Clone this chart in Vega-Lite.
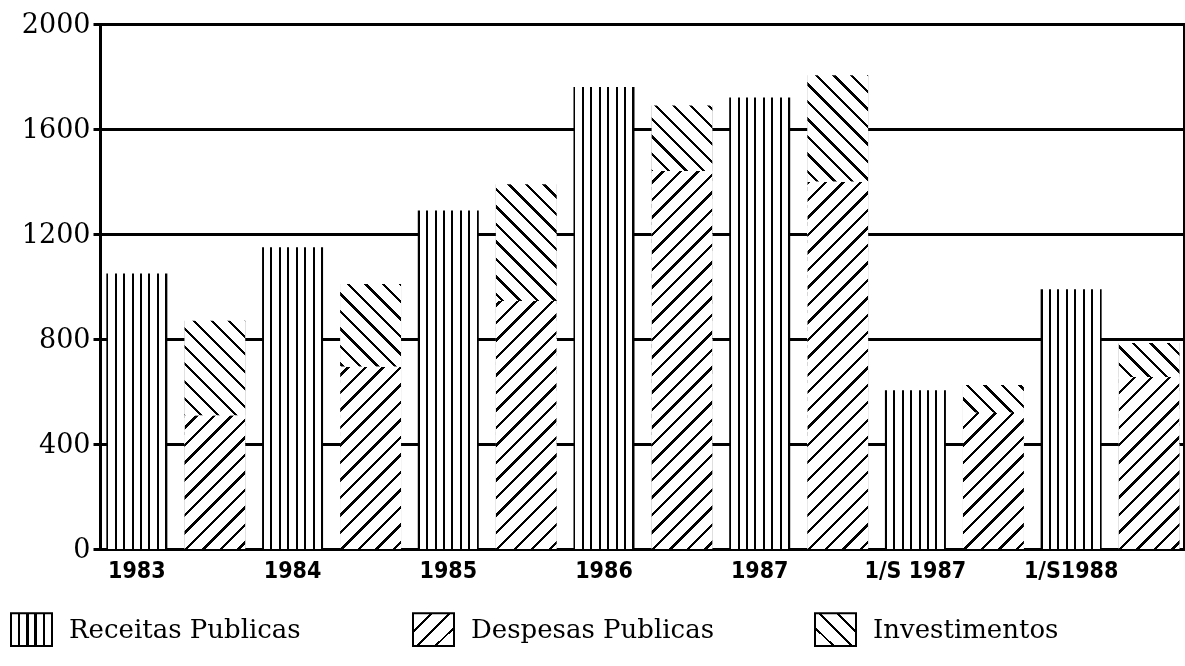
{
  "$schema": "https://vega.github.io/schema/vega-lite/v6.json",
  "width": 1084,
  "height": 525,
  "autosize": {"type": "none"},
  "padding": {"left": 100, "top": 24, "right": 1, "bottom": 117},
  "background": "white",
  "title": {"text": "(em milhões de pesos)", "frame": "group", "anchor": "middle", "offset": 4, "dy": 8, "baseline": "alphabetic", "font": "DejaVu Serif", "fontSize": 24.5, "fontWeight": "normal", "color": "black", "dx": -27},
  "data": {"values": [
    {"ano": "1983", "serie": "Receitas Publicas", "coluna": "receitas", "valor": 1050},
    {"ano": "1983", "serie": "Despesas Publicas", "coluna": "despesas", "valor": 510},
    {"ano": "1983", "serie": "Investimentos", "coluna": "despesas", "valor": 360},
    {"ano": "1984", "serie": "Receitas Publicas", "coluna": "receitas", "valor": 1150},
    {"ano": "1984", "serie": "Despesas Publicas", "coluna": "despesas", "valor": 695},
    {"ano": "1984", "serie": "Investimentos", "coluna": "despesas", "valor": 315},
    {"ano": "1985", "serie": "Receitas Publicas", "coluna": "receitas", "valor": 1290},
    {"ano": "1985", "serie": "Despesas Publicas", "coluna": "despesas", "valor": 945},
    {"ano": "1985", "serie": "Investimentos", "coluna": "despesas", "valor": 445},
    {"ano": "1986", "serie": "Receitas Publicas", "coluna": "receitas", "valor": 1760},
    {"ano": "1986", "serie": "Despesas Publicas", "coluna": "despesas", "valor": 1440},
    {"ano": "1986", "serie": "Investimentos", "coluna": "despesas", "valor": 250},
    {"ano": "1987", "serie": "Receitas Publicas", "coluna": "receitas", "valor": 1720},
    {"ano": "1987", "serie": "Despesas Publicas", "coluna": "despesas", "valor": 1400},
    {"ano": "1987", "serie": "Investimentos", "coluna": "despesas", "valor": 405},
    {"ano": "1/S 1987", "serie": "Receitas Publicas", "coluna": "receitas", "valor": 605},
    {"ano": "1/S 1987", "serie": "Despesas Publicas", "coluna": "despesas", "valor": 520},
    {"ano": "1/S 1987", "serie": "Investimentos", "coluna": "despesas", "valor": 105},
    {"ano": "1/S1988", "serie": "Receitas Publicas", "coluna": "receitas", "valor": 990},
    {"ano": "1/S1988", "serie": "Despesas Publicas", "coluna": "despesas", "valor": 655},
    {"ano": "1/S1988", "serie": "Investimentos", "coluna": "despesas", "valor": 130}
  ]},
  "config": {
    "view": {"fill": "white", "stroke": "black", "strokeWidth": 2},
    "axisY": {"grid": true, "gridColor": "black", "gridWidth": 3, "gridOpacity": 1, "domainColor": "black", "domainWidth": 3, "tickColor": "black", "tickWidth": 3, "tickSize": 7, "labelFont": "DejaVu Serif", "labelFontSize": 27, "labelColor": "black", "labelPadding": 3, "translate": 0.5, "format": "d"},
    "axisX": {"grid": false, "ticks": false, "domainColor": "black", "domainWidth": 3, "labelAngle": 0, "labelOffset": -39, "labelPadding": 10, "labelFont": "Liberation Sans Narrow, DejaVu Sans Condensed, sans-serif", "labelFontSize": 23, "labelFontWeight": "bold", "labelColor": "black", "translate": 0.5}
  },
  "encoding": {
    "x": {"field": "ano", "type": "nominal", "title": null, "scale": {"domain": ["1983", "1984", "1985", "1986", "1987", "1/S 1987", "1/S1988"], "range": [-2, 1088], "paddingInner": 0, "paddingOuter": 0}},
    "xOffset": {"field": "coluna", "type": "nominal", "scale": {"domain": ["receitas", "despesas"], "paddingInner": 0.218, "paddingOuter": 0.107}}
  },
  "layer": [
    {
      "transform": [{"filter": "datum.serie === 'Despesas Publicas'"}],
      "mark": {"type": "bar", "fill": "#808080"},
      "encoding": {
        "y": {"field": "valor", "type": "quantitative", "title": null, "scale": {"domain": [0, 2000], "nice": false}, "axis": {"values": [0, 400, 800, 1200, 1600, 2000], "format": "d"}}
      }
    },
    {
      "transform": [{"filter": "datum.serie === 'Despesas Publicas'"}],
      "mark": {"type": "bar", "blend": "overlay", "fill": {"gradient": "linear", "x1": 0, "y1": 0, "x2": 0.17475, "y2": 1.12786, "stops": [
        {"offset": 0, "color": "#fff"},
        {"offset": 0.0192, "color": "#fff"}, {"offset": 0.0192, "color": "#000"}, {"offset": 0.0267, "color": "#000"}, {"offset": 0.0267, "color": "#fff"},
        {"offset": 0.0577, "color": "#fff"}, {"offset": 0.0577, "color": "#000"}, {"offset": 0.0652, "color": "#000"}, {"offset": 0.0652, "color": "#fff"},
        {"offset": 0.0962, "color": "#fff"}, {"offset": 0.0962, "color": "#000"}, {"offset": 0.1037, "color": "#000"}, {"offset": 0.1037, "color": "#fff"},
        {"offset": 0.1346, "color": "#fff"}, {"offset": 0.1346, "color": "#000"}, {"offset": 0.1421, "color": "#000"}, {"offset": 0.1421, "color": "#fff"},
        {"offset": 0.1731, "color": "#fff"}, {"offset": 0.1731, "color": "#000"}, {"offset": 0.1806, "color": "#000"}, {"offset": 0.1806, "color": "#fff"},
        {"offset": 0.2115, "color": "#fff"}, {"offset": 0.2115, "color": "#000"}, {"offset": 0.219, "color": "#000"}, {"offset": 0.219, "color": "#fff"},
        {"offset": 0.25, "color": "#fff"}, {"offset": 0.25, "color": "#000"}, {"offset": 0.2575, "color": "#000"}, {"offset": 0.2575, "color": "#fff"},
        {"offset": 0.2885, "color": "#fff"}, {"offset": 0.2885, "color": "#000"}, {"offset": 0.296, "color": "#000"}, {"offset": 0.296, "color": "#fff"},
        {"offset": 0.3269, "color": "#fff"}, {"offset": 0.3269, "color": "#000"}, {"offset": 0.3344, "color": "#000"}, {"offset": 0.3344, "color": "#fff"},
        {"offset": 0.3654, "color": "#fff"}, {"offset": 0.3654, "color": "#000"}, {"offset": 0.3729, "color": "#000"}, {"offset": 0.3729, "color": "#fff"},
        {"offset": 0.4038, "color": "#fff"}, {"offset": 0.4038, "color": "#000"}, {"offset": 0.4113, "color": "#000"}, {"offset": 0.4113, "color": "#fff"},
        {"offset": 0.4423, "color": "#fff"}, {"offset": 0.4423, "color": "#000"}, {"offset": 0.4498, "color": "#000"}, {"offset": 0.4498, "color": "#fff"},
        {"offset": 0.4808, "color": "#fff"}, {"offset": 0.4808, "color": "#000"}, {"offset": 0.4883, "color": "#000"}, {"offset": 0.4883, "color": "#fff"},
        {"offset": 0.5192, "color": "#fff"}, {"offset": 0.5192, "color": "#000"}, {"offset": 0.5267, "color": "#000"}, {"offset": 0.5267, "color": "#fff"},
        {"offset": 0.5577, "color": "#fff"}, {"offset": 0.5577, "color": "#000"}, {"offset": 0.5652, "color": "#000"}, {"offset": 0.5652, "color": "#fff"},
        {"offset": 0.5962, "color": "#fff"}, {"offset": 0.5962, "color": "#000"}, {"offset": 0.6037, "color": "#000"}, {"offset": 0.6037, "color": "#fff"},
        {"offset": 0.6346, "color": "#fff"}, {"offset": 0.6346, "color": "#000"}, {"offset": 0.6421, "color": "#000"}, {"offset": 0.6421, "color": "#fff"},
        {"offset": 0.6731, "color": "#fff"}, {"offset": 0.6731, "color": "#000"}, {"offset": 0.6806, "color": "#000"}, {"offset": 0.6806, "color": "#fff"},
        {"offset": 0.7115, "color": "#fff"}, {"offset": 0.7115, "color": "#000"}, {"offset": 0.719, "color": "#000"}, {"offset": 0.719, "color": "#fff"},
        {"offset": 0.75, "color": "#fff"}, {"offset": 0.75, "color": "#000"}, {"offset": 0.7575, "color": "#000"}, {"offset": 0.7575, "color": "#fff"},
        {"offset": 0.7885, "color": "#fff"}, {"offset": 0.7885, "color": "#000"}, {"offset": 0.796, "color": "#000"}, {"offset": 0.796, "color": "#fff"},
        {"offset": 0.8269, "color": "#fff"}, {"offset": 0.8269, "color": "#000"}, {"offset": 0.8344, "color": "#000"}, {"offset": 0.8344, "color": "#fff"},
        {"offset": 0.8654, "color": "#fff"}, {"offset": 0.8654, "color": "#000"}, {"offset": 0.8729, "color": "#000"}, {"offset": 0.8729, "color": "#fff"},
        {"offset": 0.9038, "color": "#fff"}, {"offset": 0.9038, "color": "#000"}, {"offset": 0.9113, "color": "#000"}, {"offset": 0.9113, "color": "#fff"},
        {"offset": 0.9423, "color": "#fff"}, {"offset": 0.9423, "color": "#000"}, {"offset": 0.9498, "color": "#000"}, {"offset": 0.9498, "color": "#fff"},
        {"offset": 0.9808, "color": "#fff"}, {"offset": 0.9808, "color": "#000"}, {"offset": 0.9883, "color": "#000"}, {"offset": 0.9883, "color": "#fff"},
        {"offset": 1, "color": "#fff"}
      ]}},
      "encoding": {
        "y": {"datum": 1500, "title": null},
        "y2": {"datum": 0}
      }
    },
    {
      "transform": [{"filter": "datum.coluna === 'despesas'"}],
      "mark": {"type": "bar", "fill": "#808080"},
      "encoding": {
        "y": {"field": "valor", "type": "quantitative", "stack": "zero", "title": null},
        "detail": {"field": "serie", "type": "nominal"},
        "order": {"field": "serie", "sort": "ascending"},
        "fillOpacity": {"condition": {"test": "datum.serie === 'Despesas Publicas'", "value": 0}, "value": 1}
      }
    },
    {
      "transform": [{"filter": "datum.serie === 'Investimentos'"}],
      "mark": {"type": "bar", "blend": "overlay", "fill": {"gradient": "linear", "x1": 0, "y1": 1, "x2": 0.17475, "y2": -0.12786, "stops": [
        {"offset": 0, "color": "#fff"},
        {"offset": 0.0192, "color": "#fff"}, {"offset": 0.0192, "color": "#000"}, {"offset": 0.0267, "color": "#000"}, {"offset": 0.0267, "color": "#fff"},
        {"offset": 0.0577, "color": "#fff"}, {"offset": 0.0577, "color": "#000"}, {"offset": 0.0652, "color": "#000"}, {"offset": 0.0652, "color": "#fff"},
        {"offset": 0.0962, "color": "#fff"}, {"offset": 0.0962, "color": "#000"}, {"offset": 0.1037, "color": "#000"}, {"offset": 0.1037, "color": "#fff"},
        {"offset": 0.1346, "color": "#fff"}, {"offset": 0.1346, "color": "#000"}, {"offset": 0.1421, "color": "#000"}, {"offset": 0.1421, "color": "#fff"},
        {"offset": 0.1731, "color": "#fff"}, {"offset": 0.1731, "color": "#000"}, {"offset": 0.1806, "color": "#000"}, {"offset": 0.1806, "color": "#fff"},
        {"offset": 0.2115, "color": "#fff"}, {"offset": 0.2115, "color": "#000"}, {"offset": 0.219, "color": "#000"}, {"offset": 0.219, "color": "#fff"},
        {"offset": 0.25, "color": "#fff"}, {"offset": 0.25, "color": "#000"}, {"offset": 0.2575, "color": "#000"}, {"offset": 0.2575, "color": "#fff"},
        {"offset": 0.2885, "color": "#fff"}, {"offset": 0.2885, "color": "#000"}, {"offset": 0.296, "color": "#000"}, {"offset": 0.296, "color": "#fff"},
        {"offset": 0.3269, "color": "#fff"}, {"offset": 0.3269, "color": "#000"}, {"offset": 0.3344, "color": "#000"}, {"offset": 0.3344, "color": "#fff"},
        {"offset": 0.3654, "color": "#fff"}, {"offset": 0.3654, "color": "#000"}, {"offset": 0.3729, "color": "#000"}, {"offset": 0.3729, "color": "#fff"},
        {"offset": 0.4038, "color": "#fff"}, {"offset": 0.4038, "color": "#000"}, {"offset": 0.4113, "color": "#000"}, {"offset": 0.4113, "color": "#fff"},
        {"offset": 0.4423, "color": "#fff"}, {"offset": 0.4423, "color": "#000"}, {"offset": 0.4498, "color": "#000"}, {"offset": 0.4498, "color": "#fff"},
        {"offset": 0.4808, "color": "#fff"}, {"offset": 0.4808, "color": "#000"}, {"offset": 0.4883, "color": "#000"}, {"offset": 0.4883, "color": "#fff"},
        {"offset": 0.5192, "color": "#fff"}, {"offset": 0.5192, "color": "#000"}, {"offset": 0.5267, "color": "#000"}, {"offset": 0.5267, "color": "#fff"},
        {"offset": 0.5577, "color": "#fff"}, {"offset": 0.5577, "color": "#000"}, {"offset": 0.5652, "color": "#000"}, {"offset": 0.5652, "color": "#fff"},
        {"offset": 0.5962, "color": "#fff"}, {"offset": 0.5962, "color": "#000"}, {"offset": 0.6037, "color": "#000"}, {"offset": 0.6037, "color": "#fff"},
        {"offset": 0.6346, "color": "#fff"}, {"offset": 0.6346, "color": "#000"}, {"offset": 0.6421, "color": "#000"}, {"offset": 0.6421, "color": "#fff"},
        {"offset": 0.6731, "color": "#fff"}, {"offset": 0.6731, "color": "#000"}, {"offset": 0.6806, "color": "#000"}, {"offset": 0.6806, "color": "#fff"},
        {"offset": 0.7115, "color": "#fff"}, {"offset": 0.7115, "color": "#000"}, {"offset": 0.719, "color": "#000"}, {"offset": 0.719, "color": "#fff"},
        {"offset": 0.75, "color": "#fff"}, {"offset": 0.75, "color": "#000"}, {"offset": 0.7575, "color": "#000"}, {"offset": 0.7575, "color": "#fff"},
        {"offset": 0.7885, "color": "#fff"}, {"offset": 0.7885, "color": "#000"}, {"offset": 0.796, "color": "#000"}, {"offset": 0.796, "color": "#fff"},
        {"offset": 0.8269, "color": "#fff"}, {"offset": 0.8269, "color": "#000"}, {"offset": 0.8344, "color": "#000"}, {"offset": 0.8344, "color": "#fff"},
        {"offset": 0.8654, "color": "#fff"}, {"offset": 0.8654, "color": "#000"}, {"offset": 0.8729, "color": "#000"}, {"offset": 0.8729, "color": "#fff"},
        {"offset": 0.9038, "color": "#fff"}, {"offset": 0.9038, "color": "#000"}, {"offset": 0.9113, "color": "#000"}, {"offset": 0.9113, "color": "#fff"},
        {"offset": 0.9423, "color": "#fff"}, {"offset": 0.9423, "color": "#000"}, {"offset": 0.9498, "color": "#000"}, {"offset": 0.9498, "color": "#fff"},
        {"offset": 0.9808, "color": "#fff"}, {"offset": 0.9808, "color": "#000"}, {"offset": 0.9883, "color": "#000"}, {"offset": 0.9883, "color": "#fff"},
        {"offset": 1, "color": "#fff"}
      ]}},
      "encoding": {
        "y": {"datum": 1900, "title": null},
        "y2": {"datum": 400}
      }
    },
    {
      "transform": [{"filter": "datum.serie === 'Receitas Publicas'"}],
      "mark": {"type": "bar", "fill": {"gradient": "linear", "x1": 0, "y1": 0, "x2": 1, "y2": 0, "stops": [
        {"offset": 0, "color": "#000"}, {"offset": 0.0328, "color": "#000"}, {"offset": 0.0328, "color": "#fff"},
        {"offset": 0.1382, "color": "#fff"}, {"offset": 0.1382, "color": "#000"}, {"offset": 0.171, "color": "#000"}, {"offset": 0.171, "color": "#fff"},
        {"offset": 0.2764, "color": "#fff"}, {"offset": 0.2764, "color": "#000"}, {"offset": 0.3092, "color": "#000"}, {"offset": 0.3092, "color": "#fff"},
        {"offset": 0.4146, "color": "#fff"}, {"offset": 0.4146, "color": "#000"}, {"offset": 0.4474, "color": "#000"}, {"offset": 0.4474, "color": "#fff"},
        {"offset": 0.5527, "color": "#fff"}, {"offset": 0.5527, "color": "#000"}, {"offset": 0.5855, "color": "#000"}, {"offset": 0.5855, "color": "#fff"},
        {"offset": 0.6909, "color": "#fff"}, {"offset": 0.6909, "color": "#000"}, {"offset": 0.7237, "color": "#000"}, {"offset": 0.7237, "color": "#fff"},
        {"offset": 0.829, "color": "#fff"}, {"offset": 0.829, "color": "#000"}, {"offset": 0.8618, "color": "#000"}, {"offset": 0.8618, "color": "#fff"},
        {"offset": 0.9672, "color": "#fff"}, {"offset": 0.9672, "color": "#000"}, {"offset": 1, "color": "#000"}
      ]}},
      "encoding": {
        "y": {"field": "valor", "type": "quantitative", "title": null}
      }
    },
    {
      "mark": {"type": "point", "filled": true, "opacity": 0,
        "fill": {"expr": "(datum.serie === 'Receitas Publicas' || datum.value === 'Receitas Publicas') ? {gradient: 'linear', x1: 0, y1: 0, x2: 1, y2: 0, stops: [{offset: 0, color: '#fff'}, {offset: 0.17, color: '#fff'}, {offset: 0.17, color: '#000'}, {offset: 0.23, color: '#000'}, {offset: 0.23, color: '#fff'}, {offset: 0.37, color: '#fff'}, {offset: 0.37, color: '#000'}, {offset: 0.43, color: '#000'}, {offset: 0.43, color: '#fff'}, {offset: 0.57, color: '#fff'}, {offset: 0.57, color: '#000'}, {offset: 0.63, color: '#000'}, {offset: 0.63, color: '#fff'}, {offset: 0.77, color: '#fff'}, {offset: 0.77, color: '#000'}, {offset: 0.83, color: '#000'}, {offset: 0.83, color: '#fff'}, {offset: 1, color: '#fff'}]} : (datum.serie === 'Despesas Publicas' || datum.value === 'Despesas Publicas') ? {gradient: 'linear', x1: 0, y1: 0, x2: 1.0953, y2: 0.8816, stops: [{offset: 0, color: '#fff'}, {offset: 0.23, color: '#fff'}, {offset: 0.23, color: '#000'}, {offset: 0.27, color: '#000'}, {offset: 0.27, color: '#fff'}, {offset: 0.48, color: '#fff'}, {offset: 0.48, color: '#000'}, {offset: 0.52, color: '#000'}, {offset: 0.52, color: '#fff'}, {offset: 0.73, color: '#fff'}, {offset: 0.73, color: '#000'}, {offset: 0.77, color: '#000'}, {offset: 0.77, color: '#fff'}, {offset: 1, color: '#fff'}]} : {gradient: 'linear', x1: 0, y1: 1, x2: 1.0953, y2: 0.1184, stops: [{offset: 0, color: '#fff'}, {offset: 0.23, color: '#fff'}, {offset: 0.23, color: '#000'}, {offset: 0.27, color: '#000'}, {offset: 0.27, color: '#fff'}, {offset: 0.48, color: '#fff'}, {offset: 0.48, color: '#000'}, {offset: 0.52, color: '#000'}, {offset: 0.52, color: '#fff'}, {offset: 0.73, color: '#fff'}, {offset: 0.73, color: '#000'}, {offset: 0.77, color: '#000'}, {offset: 0.77, color: '#fff'}, {offset: 1, color: '#fff'}]}"}
      },
      "encoding": {
        "y": {"datum": 0, "title": null},
        "stroke": {"field": "serie", "type": "nominal",
          "scale": {"domain": ["Receitas Publicas", "Despesas Publicas", "Investimentos"], "range": ["black", "black", "black"]},
          "legend": {"title": null, "orient": "none", "legendX": -90, "legendY": 584, "direction": "horizontal", "columns": 3, "gridAlign": "all", "columnPadding": 97,
            "symbolType": "M-1,-0.8H1V0.8H-1Z", "symbolSize": 1681, "symbolStrokeWidth": 2, "symbolOpacity": 1,
            "labelFont": "DejaVu Serif", "labelFontSize": 26, "labelColor": "black", "labelLimit": 500, "labelOffset": 16}
        }
      }
    }
  ]
}
